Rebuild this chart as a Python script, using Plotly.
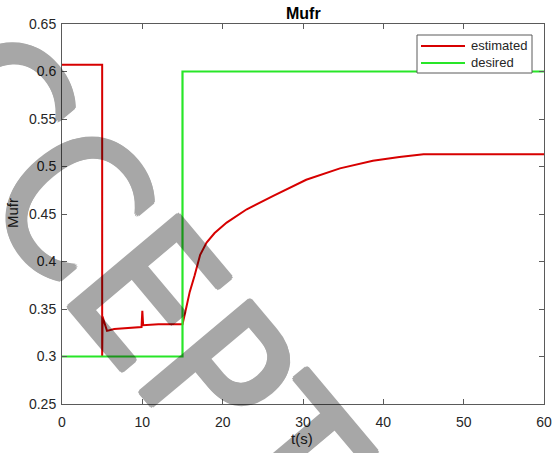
import plotly.graph_objects as go

# Data
t_est = [0, 5.0, 5.0, 5.05, 5.3, 5.6, 6.5, 8.0, 9.9, 10.0, 10.1, 12.0, 15.0,
         15.3, 15.9, 16.5, 17.2, 18.0, 19.0, 20.5, 23.0, 26.3, 30.4, 34.6, 38.7, 42.0, 45.0, 60.0]
v_est = [0.607, 0.607, 0.300, 0.342, 0.335, 0.327, 0.329, 0.330, 0.331, 0.348, 0.333, 0.334, 0.334,
         0.345, 0.368, 0.385, 0.407, 0.420, 0.430, 0.441, 0.455, 0.469, 0.486, 0.498, 0.506, 0.510, 0.513, 0.513]
t_des = [0, 15.0, 15.0, 60.0]
v_des = [0.300, 0.300, 0.600, 0.600]

x_ticks = [0, 10, 20, 30, 40, 50, 60]
y_ticks = [0.25, 0.3, 0.35, 0.4, 0.45, 0.5, 0.55, 0.6, 0.65]
y_tick_text = ["0.25", "0.3", "0.35", "0.4", "0.45", "0.5", "0.55", "0.6", "0.65"]

series_names = ["estimated", "desired"]
series_colors = ["rgb(215,0,0)", "rgb(40,230,40)"]

W, H = 553, 453
L, R, T, B = 62, 9, 24, 49
pw, ph = W - L - R, H - T - B


def px(xp):  # pixel x -> paper x
    return (xp - L) / pw


def py(yp):  # pixel y -> paper y
    return (H - B - yp) / ph


fig = go.Figure()
fig.add_trace(go.Scatter(x=t_est, y=v_est, mode="lines", name=series_names[0],
                         line=dict(color=series_colors[0], width=2)))
fig.add_trace(go.Scatter(x=t_des, y=v_des, mode="lines", name=series_names[1],
                         line=dict(color=series_colors[1], width=2.2)))

axis_col = "rgb(90,90,90)"
font_col = "rgb(38,38,38)"
fam = "Liberation Sans, Arial, sans-serif"

shapes = []
annotations = []

# custom legend (box, sample lines, labels)
lx0, lx1, ly0, ly1 = 417, 532, 35, 73
shapes.append(dict(type="rect", xref="paper", yref="paper",
                   x0=px(lx0), x1=px(lx1), y0=py(ly1), y1=py(ly0),
                   line=dict(color=axis_col, width=1), fillcolor="white", layer="above"))
for i, (nm, col) in enumerate(zip(series_names, series_colors)):
    yy = 46 + 17 * i
    shapes.append(dict(type="line", xref="paper", yref="paper",
                       x0=px(421), x1=px(465), y0=py(yy), y1=py(yy),
                       line=dict(color=col, width=2), layer="above"))
    annotations.append(dict(text=nm, xref="paper", yref="paper", x=px(469), y=py(yy),
                            xanchor="left", yanchor="middle", showarrow=False,
                            font=dict(size=13, color=font_col, family=fam)))

# title and axis titles
annotations.append(dict(text="<b>Mufr</b>", xref="paper", yref="paper", x=px(303.5), y=py(13),
                        xanchor="center", yanchor="middle", showarrow=False,
                        font=dict(size=16, color="black", family=fam)))
annotations.append(dict(text="t(s)", xref="paper", yref="paper", x=px(302), y=py(438),
                        xanchor="center", yanchor="middle", showarrow=False,
                        font=dict(size=15, color=font_col, family=fam)))
annotations.append(dict(text="Mufr", xref="paper", yref="paper", x=px(12), y=py(213),
                        xanchor="center", yanchor="middle", showarrow=False, textangle=-90,
                        font=dict(size=15, color=font_col, family=fam)))

# watermark (thickened with a text shadow, made translucent as a whole)
d = 2.5
e = 1.8
sh = ", ".join(f"{a}px {b}px 0 black" for a, b in
               [(d, 0), (-d, 0), (0, d), (0, -d), (e, e), (-e, e), (e, -e), (-e, -e)])
annotations.append(dict(text="ACCEPTED", xref="paper", yref="paper", x=px(177), y=py(330),
                        xanchor="center", yanchor="middle", showarrow=False, textangle=50,
                        opacity=0.34,
                        font=dict(size=196, color="black", shadow=sh,
                                  family="Liberation Sans Narrow, Arial Narrow, DejaVu Sans Condensed, sans-serif")))

fig.update_layout(
    width=W, height=H,
    margin=dict(l=L, r=R, t=T, b=B),
    paper_bgcolor="white", plot_bgcolor="white",
    font=dict(family=fam, size=14, color=font_col),
    showlegend=False,
    shapes=shapes,
    annotations=annotations,
    xaxis=dict(range=[0, 60], tickvals=x_ticks, ticks="inside", ticklen=5,
               tickcolor=axis_col, linecolor=axis_col, linewidth=1, mirror="ticks",
               showline=True, showgrid=False, zeroline=False, automargin=False,
               ticklabelstandoff=5, tickfont=dict(size=14, color=font_col)),
    yaxis=dict(range=[0.25, 0.65], tickvals=y_ticks, ticktext=y_tick_text, ticks="inside",
               ticklen=5, tickcolor=axis_col, linecolor=axis_col, linewidth=1, mirror="ticks",
               showline=True, showgrid=False, zeroline=False, automargin=False,
               ticklabelstandoff=2, tickfont=dict(size=14, color=font_col)),
)

fig.write_html("out.html")
